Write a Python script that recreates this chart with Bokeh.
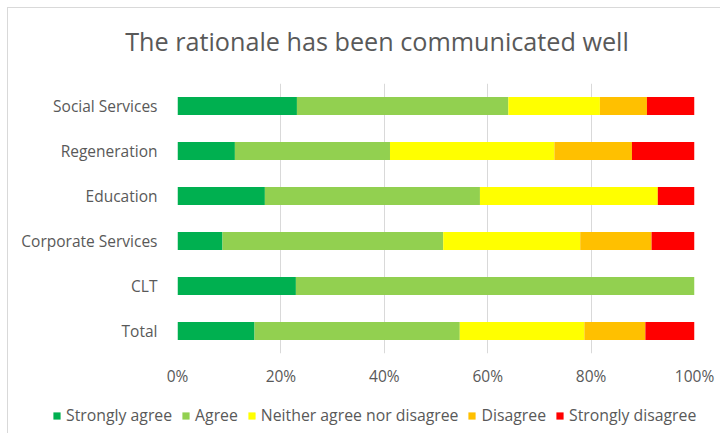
from bokeh.plotting import figure
from bokeh.layouts import column
from bokeh.models import (Legend, LegendItem, Label, FactorRange, Range1d,
                          PrintfTickFormatter, FixedTicker, ColumnDataSource)
from bokeh.embed import file_html
from bokeh.resources import INLINE

# ---- data (percent of respondents) ----
categories = ["Total", "CLT", "Corporate Services", "Education",
              "Regeneration", "Social Services"]
strongly_agree = [14.9, 22.9, 8.7, 16.9, 11.1, 23.1]
agree = [39.7, 77.1, 42.7, 41.6, 30.0, 40.9]
neither = [24.1, 0.0, 26.5, 34.4, 31.8, 17.7]
disagree = [11.8, 0.0, 13.8, 0.0, 15.0, 9.1]
strongly_disagree = [9.5, 0.0, 8.3, 7.1, 12.1, 9.2]

series_names = ["Strongly agree", "Agree", "Neither agree nor disagree",
                "Disagree", "Strongly disagree"]
series_colors = ["#00B050", "#92D050", "#FFFF00", "#FFC000", "#FF0000"]
x_ticks = [0, 20, 40, 60, 80, 100]
title_text = "The rationale has been communicated well"

FONT = "Open Sans"
TXT = "#595959"
W = 712

source = ColumnDataSource(dict(
    cat=categories,
    s1=strongly_agree, s2=agree, s3=neither, s4=disagree, s5=strongly_disagree,
))
keys = ["s1", "s2", "s3", "s4", "s5"]


def strip(height, **kw):
    f = figure(width=W, height=height, output_backend="svg", toolbar_location=None,
               x_axis_location=None, y_axis_location=None, title=None,
               frame_align=False,
               min_border_left=0, min_border_right=0, min_border_top=0,
               min_border_bottom=0, **kw)
    f.outline_line_color = None
    f.grid.visible = False
    return f


# ---- title strip ----
t = strip(60, x_range=Range1d(0, W), y_range=Range1d(60, 0))
t.add_layout(Label(x=368.5, y=32.5, text=title_text, text_align="center",
                   text_baseline="alphabetic", text_font=FONT,
                   text_font_size="25.2px", text_color=TXT))

# ---- main chart ----
p = figure(width=W, height=330, output_backend="svg", toolbar_location=None,
           y_range=FactorRange(factors=categories), x_range=Range1d(0, 100),
           frame_align=False,
           min_border_left=169, min_border_right=26, min_border_top=15,
           min_border_bottom=45)
p.outline_line_color = None
p.hbar_stack(keys, y="cat", height=0.4, color=series_colors,
             line_color=None, source=source)

p.xaxis.ticker = FixedTicker(ticks=x_ticks)
p.xaxis.formatter = PrintfTickFormatter(format="%d%%")
p.xaxis.axis_line_color = None
p.xaxis.major_tick_line_color = None
p.xaxis.minor_tick_line_color = None
p.xaxis.major_label_standoff = 5
p.yaxis.axis_line_color = None
p.yaxis.major_tick_line_color = None
p.yaxis.minor_tick_line_color = None
p.yaxis.major_label_standoff = 14
for ax in (p.xaxis, p.yaxis):
    ax.major_label_text_font = FONT
    ax.major_label_text_font_size = "15.5px"
    ax.major_label_text_color = TXT
p.xgrid.ticker = FixedTicker(ticks=x_ticks)
p.xgrid.grid_line_color = "#D9D9D9"
p.ygrid.grid_line_color = None

# ---- legend strip (legend drawn from hidden copies of the same series) ----
lg = strip(35, x_range=Range1d(0, 100), y_range=FactorRange(factors=categories))
leg_renderers = lg.hbar_stack(keys, y="cat", height=0.4, color=series_colors,
                              line_color=None, source=source, visible=False)
items = [LegendItem(label=n, renderers=[r]) for n, r in zip(series_names, leg_renderers)]
legend = Legend(items=items, orientation="horizontal", location=(44, 7),
                glyph_width=9, glyph_height=9, label_standoff=5, spacing=9,
                padding=0, margin=0, border_line_color=None,
                background_fill_alpha=0, inactive_fill_alpha=0,
                label_text_font=FONT, label_text_font_size="15.8px",
                label_text_color=TXT, label_height=20)
lg.add_layout(legend, "center")

layout = column(t, p, lg, spacing=0,
                styles={"margin-left": "7px", "margin-top": "7px",
                        "border-left": "1px solid #D9D9D9",
                        "border-top": "1px solid #D9D9D9"})

open("out.html", "w").write(file_html(layout, INLINE))
